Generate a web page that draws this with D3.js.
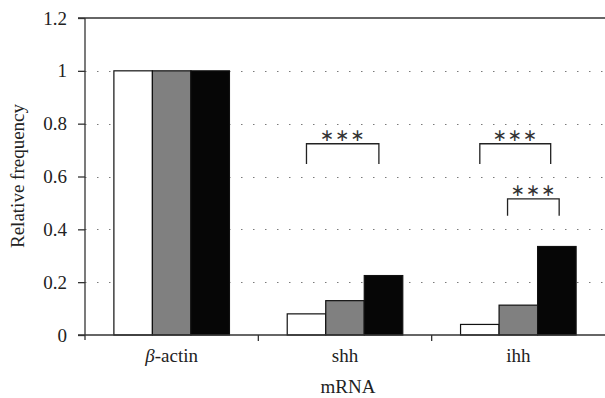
<!DOCTYPE html>
<html>
<head>
<meta charset="utf-8">
<script src="https://cdn.jsdelivr.net/npm/d3@7"></script>
<style>
  body { margin: 0; background: #fff; }
  svg { display: block; }
</style>
</head>
<body>
<svg id="chart" width="605" height="398"></svg>
<script>
const categories = ['β-actin', 'shh', 'ihh'];
const series = ['s1', 's2', 's3'];
const values = [
  [1, 1, 1],
  [0.08, 0.13, 0.225],
  [0.04, 0.113, 0.335],
];
const colors = ['#ffffff', '#808080', '#060606'];
const yTicks = [0, 0.2, 0.4, 0.6, 0.8, 1, 1.2];
const yTickLabels = ['0', '0.2', '0.4', '0.6', '0.8', '1', '1.2'];
// significance brackets: category, ends (in bar units, 0 = first bar centre), level, leg bottom
const brackets = [
  { cat: 'shh', from: 0, to: 1.88, top: 0.724, bottom: 0.647 },
  { cat: 'ihh', from: 0, to: 1.84, top: 0.724, bottom: 0.647 },
  { cat: 'ihh', from: 0.72, to: 2.06, top: 0.515, bottom: 0.451 },
];

const svg = d3.select('#chart');
const serif = '"Liberation Serif", "DejaVu Serif", serif';
const fs = 19;

const x0 = d3.scaleBand().domain(categories).range([85, 605]).paddingInner(0).paddingOuter(0);
const x1 = d3.scaleBand().domain(series).range([0, x0.bandwidth()]).paddingInner(0).paddingOuter(0.75);
const y = d3.scaleLinear().domain([0, 1.2]).range([335, 18]);

// dotted grid
svg.append('g')
  .selectAll('line')
  .data(yTicks.filter((d) => d > 0 && d < 1.2))
  .enter()
  .append('line')
  .attr('x1', 85)
  .attr('x2', 605)
  .attr('y1', (d) => Math.round(y(d)) + 0.5)
  .attr('y2', (d) => Math.round(y(d)) + 0.5)
  .attr('stroke', '#7a7a7a')
  .attr('stroke-width', 1)
  .attr('stroke-dasharray', '1.5,10.5');

// bars
const groups = svg.append('g')
  .selectAll('g')
  .data(categories)
  .enter()
  .append('g')
  .attr('transform', (d) => `translate(${x0(d)},0)`);

groups.selectAll('rect')
  .data((d, i) => values[i].map((v, j) => ({ key: series[j], v, j })))
  .enter()
  .append('rect')
  .attr('x', (d) => x1(d.key))
  .attr('y', (d) => y(d.v))
  .attr('width', x1.bandwidth())
  .attr('height', (d) => y(0) - y(d.v))
  .attr('fill', (d) => colors[d.j])
  .attr('stroke', '#111')
  .attr('stroke-width', 1.2);

// top border line
svg.append('line')
  .attr('x1', 78).attr('x2', 605)
  .attr('y1', y(1.2)).attr('y2', y(1.2))
  .attr('stroke', '#333').attr('stroke-width', 1.3);

// y axis
const yAxis = svg.append('g')
  .attr('transform', 'translate(85,0)')
  .call(d3.axisLeft(y).tickValues(yTicks).tickFormat((d, i) => yTickLabels[i]).tickSize(7).tickPadding(11));
yAxis.select('.domain').attr('stroke', '#333').attr('stroke-width', 1.3).attr('d', `M0,${y(1.2)}V340`);
yAxis.selectAll('.tick line').attr('stroke', '#333').attr('stroke-width', 1.3);
yAxis.selectAll('text')
  .attr('font-family', serif)
  .attr('font-size', fs)
  .attr('fill', '#222');

// x axis
const xAxis = svg.append('g')
  .attr('transform', `translate(0,${y(0)})`)
  .call(d3.axisBottom(x0).tickSize(0).tickPadding(13.5));
xAxis.select('.domain').attr('stroke', '#333').attr('stroke-width', 1.3).attr('d', 'M78,0H605');
xAxis.selectAll('text')
  .attr('font-family', serif)
  .attr('font-size', fs)
  .attr('fill', '#222')
  .each(function (d) {
    if (d === 'β-actin') {
      const t = d3.select(this).text(null);
      t.append('tspan').attr('font-style', 'italic').text('β');
      t.append('tspan').text('-actin');
    }
  });

// boundary ticks between categories
svg.append('g')
  .selectAll('line')
  .data(categories.slice(1))
  .enter()
  .append('line')
  .attr('x1', (d) => x0(d))
  .attr('x2', (d) => x0(d))
  .attr('y1', y(0))
  .attr('y2', y(0) + 6)
  .attr('stroke', '#333')
  .attr('stroke-width', 1.3);

// axis titles
svg.append('text')
  .attr('x', 348)
  .attr('y', 393)
  .attr('text-anchor', 'middle')
  .attr('font-family', serif)
  .attr('font-size', fs)
  .attr('fill', '#222')
  .text('mRNA');

svg.append('text')
  .attr('transform', 'translate(24,176) rotate(-90)')
  .attr('text-anchor', 'middle')
  .attr('font-family', serif)
  .attr('font-size', fs)
  .attr('fill', '#222')
  .text('Relative frequency');

// significance brackets
const bx = (b, pos) => x0(b.cat) + x1(series[0]) + x1.step() * (pos + 0.5);
const br = svg.append('g');
br.selectAll('path')
  .data(brackets)
  .enter()
  .append('path')
  .attr('d', (b) => {
    const a = bx(b, b.from);
    const c = bx(b, b.to);
    return `M${a},${y(b.bottom)}V${y(b.top)}H${c}V${y(b.bottom)}`;
  })
  .attr('fill', 'none')
  .attr('stroke', '#222')
  .attr('stroke-width', 1.3);

br.selectAll('text')
  .data(brackets)
  .enter()
  .append('text')
  .attr('x', (b) => (bx(b, b.from) + bx(b, b.to)) / 2)
  .attr('y', (b) => y(b.top) - 3)
  .attr('text-anchor', 'middle')
  .attr('font-family', '"DejaVu Sans", sans-serif')
  .attr('font-size', 17)
  .attr('letter-spacing', 1)
  .attr('fill', '#333')
  .text('∗∗∗');
</script>
</body>
</html>
